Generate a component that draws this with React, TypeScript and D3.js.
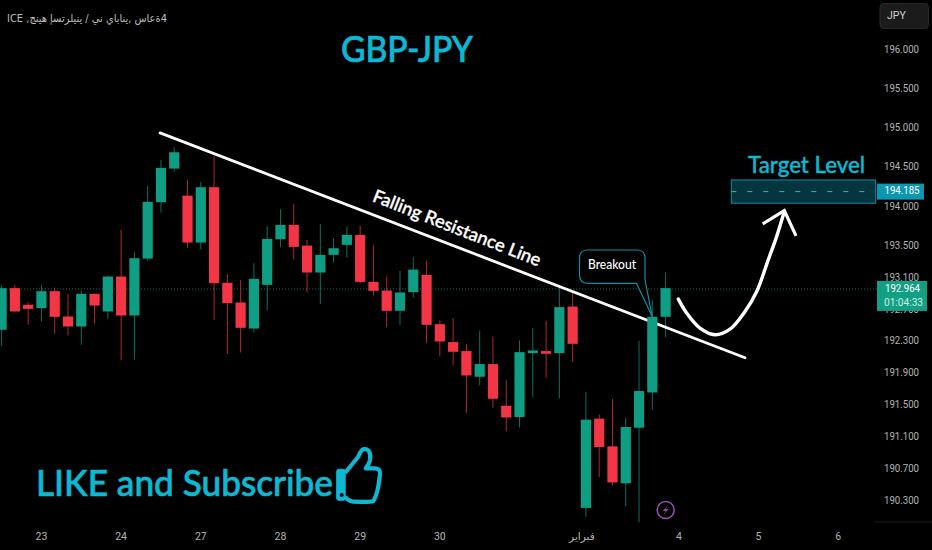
import React, { useEffect, useRef } from 'react';
import * as d3 from 'd3';

const width = 932;
const height = 550;

// OHLC for every 4h candle
const opens = [192.450, 192.974, 192.764, 192.722, 192.936, 192.617, 192.491, 192.902, 192.680, 193.120, 192.629, 193.347, 194.061, 194.487, 194.144, 193.550, 194.251, 193.041, 192.793, 192.465, 193.015, 193.592, 193.773, 193.511, 193.171, 193.394, 193.520, 193.646, 193.053, 192.944, 192.688, 192.924, 193.141, 192.520, 192.295, 192.182, 191.860, 192.019, 191.497, 191.355, 192.156, 192.182, 192.156, 192.742, 190.223, 191.335, 190.989, 190.529, 191.222, 191.663, 192.613];
const highs = [193.015, 193.015, 192.798, 193.015, 192.982, 192.902, 192.944, 192.910, 193.129, 193.710, 193.428, 194.271, 194.597, 194.759, 194.343, 194.318, 194.648, 193.154, 193.078, 193.289, 193.761, 193.972, 194.039, 193.583, 193.786, 193.605, 193.752, 193.764, 193.520, 193.120, 193.192, 193.365, 193.319, 192.563, 192.596, 192.273, 192.441, 192.365, 191.822, 192.315, 192.470, 192.563, 192.994, 192.931, 191.668, 191.389, 191.581, 191.347, 192.311, 192.826, 193.171];
const lows = [192.249, 192.676, 192.512, 192.554, 192.399, 192.378, 192.261, 192.524, 192.587, 192.064, 192.073, 193.322, 193.929, 194.448, 193.478, 193.466, 192.575, 192.145, 192.164, 192.415, 192.692, 193.491, 193.337, 192.919, 192.772, 193.297, 193.360, 193.037, 192.881, 192.483, 192.512, 192.856, 192.282, 192.114, 192.002, 191.406, 191.751, 191.472, 191.176, 191.226, 191.605, 191.847, 191.588, 192.052, 190.110, 190.607, 190.503, 190.242, 190.043, 191.447, 192.358];
const closes = [192.974, 192.680, 192.713, 192.936, 192.613, 192.491, 192.902, 192.755, 193.120, 192.629, 193.352, 194.065, 194.496, 194.695, 193.550, 194.251, 193.037, 192.785, 192.474, 193.091, 193.596, 193.773, 193.495, 193.171, 193.394, 193.478, 193.646, 193.053, 192.940, 192.688, 192.919, 193.208, 192.512, 192.303, 192.173, 191.876, 192.019, 191.584, 191.351, 192.169, 192.190, 192.148, 192.735, 192.273, 191.322, 190.981, 190.540, 191.231, 191.681, 192.613, 192.974];

const priceTicks = [196, 195.5, 195, 194.5, 194, 193.5, 193.1, 192.7, 192.3, 191.9, 191.5, 191.1, 190.7, 190.3];
const timeTickIndex = [3, 9, 15, 21, 27, 33, 43.7, 51, 57, 63];
const timeTickLabels = ['23', '24', '27', '28', '29', '30', 'فبراير', '4', '5', '6'];

const lastPrice = 192.964;
const targetPrice = 194.195;
const targetTop = 194.343;
const targetBottom = 194.048;
const targetFromIndex = 54.95;
const targetToIndex = 65.82;

// drawings are anchored to bar index / price
const trendIndex = [11.93, 55.98];
const trendPrice = [194.941, 192.098];
const curveIndex = [50.96, 51.59, 52.59, 53.72, 54.85, 55.98, 56.86, 57.73, 58.36, 58.94];
const curvePrice = [192.836, 192.659, 192.47, 192.387, 192.458, 192.68, 192.931, 193.331, 193.625, 193.942];
const headIndex = [57.31, 58.94, 59.82];
const headPrice = [193.786, 193.955, 193.634];

const UP = '#0f9d84';
const DOWN = '#f23645';
const CYAN = '#0cb8d2';
const TEAL = '#0e8fa6';
const AXIS_TEXT = '#b4b4b4';
const UI_FONT = 'Lato, "Noto Sans", sans-serif';
const AXIS_FONT = 'Roboto, "DejaVu Sans", sans-serif';

const App: React.FC = () => {
  const svgRef = useRef<SVGSVGElement>(null);

  useEffect(() => {
    if (!svgRef.current) return;
    const svg = d3.select(svgRef.current);
    svg.selectAll('*').remove();

    const x = d3.scaleLinear().domain([0, 50]).range([1.6, 665.6]);
    const y = d3.scaleLog().domain([190.3, 196]).range([501.7, 50]);
    const bars = d3.range(opens.length);
    const bodyWidth = 10.2;

    svg.append('rect').attr('width', width).attr('height', height).attr('fill', '#000');

    // last price dotted line
    svg.append('line')
      .attr('x1', 0).attr('x2', 877)
      .attr('y1', y(lastPrice)).attr('y2', y(lastPrice))
      .attr('stroke', '#0f6f5e').attr('stroke-width', 1).attr('stroke-dasharray', '1,2');

    // wicks
    svg.append('g')
      .selectAll('line')
      .data(bars)
      .join('line')
      .attr('x1', i => x(i)).attr('x2', i => x(i))
      .attr('y1', i => y(highs[i])).attr('y2', i => y(lows[i]))
      .attr('stroke', i => (closes[i] >= opens[i] ? UP : DOWN))
      .attr('stroke-opacity', 0.72)
      .attr('stroke-width', 1);

    // falling resistance line sits between wicks and bodies
    svg.append('line')
      .attr('x1', x(trendIndex[0])).attr('y1', y(trendPrice[0]))
      .attr('x2', x(trendIndex[1])).attr('y2', y(trendPrice[1]))
      .attr('stroke', '#fff').attr('stroke-width', 2.8).attr('stroke-linecap', 'round');

    // bodies
    svg.append('g')
      .selectAll('rect')
      .data(bars)
      .join('rect')
      .attr('x', i => x(i) - bodyWidth / 2)
      .attr('width', bodyWidth)
      .attr('y', i => y(Math.max(opens[i], closes[i])))
      .attr('height', i => Math.max(1.5, y(Math.min(opens[i], closes[i])) - y(Math.max(opens[i], closes[i]))))
      .attr('fill', i => (closes[i] >= opens[i] ? UP : DOWN));

    svg.append('text')
      .attr('transform', 'translate(456.5,229.5) rotate(21.5)')
      .attr('text-anchor', 'middle')
      .attr('dominant-baseline', 'middle')
      .attr('font-family', UI_FONT).attr('font-size', 18).attr('font-weight', 500)
      .attr('textLength', 179).attr('lengthAdjust', 'spacingAndGlyphs')
      .attr('fill', '#fff').attr('stroke', '#fff').attr('stroke-width', 0.4)
      .text('Falling Resistance Line');

    // target zone
    svg.append('rect')
      .attr('x', x(targetFromIndex)).attr('y', y(targetTop))
      .attr('width', x(targetToIndex) - x(targetFromIndex))
      .attr('height', y(targetBottom) - y(targetTop))
      .attr('fill', '#05363f').attr('stroke', TEAL).attr('stroke-width', 1);
    svg.append('line')
      .attr('x1', x(targetFromIndex)).attr('x2', x(targetToIndex))
      .attr('y1', y(targetPrice)).attr('y2', y(targetPrice))
      .attr('stroke', '#3fb3b8').attr('stroke-width', 1).attr('stroke-dasharray', '5,11');
    svg.append('text')
      .attr('x', 748).attr('y', 172.5)
      .attr('font-family', UI_FONT).attr('font-size', 22.5).attr('font-weight', 500)
      .attr('textLength', 117).attr('lengthAdjust', 'spacingAndGlyphs')
      .attr('fill', CYAN).attr('stroke', CYAN).attr('stroke-width', 0.4)
      .text('Target Level');

    // breakout callout
    svg.append('path')
      .attr('d', `M588,250 H637 Q645,250 645,258 V280 L${x(49)},${y(192.613)} L636.5,283.3 H588 Q579.5,283.3 579.5,275 V258 Q579.5,250 588,250 Z`)
      .attr('fill', '#000').attr('stroke', TEAL).attr('stroke-width', 1.2).attr('stroke-linejoin', 'round');
    svg.append('text')
      .attr('x', 612).attr('y', 266)
      .attr('text-anchor', 'middle').attr('dominant-baseline', 'middle')
      .attr('font-family', UI_FONT).attr('font-size', 12.5).attr('font-weight', 500)
      .attr('textLength', 48).attr('lengthAdjust', 'spacingAndGlyphs')
      .attr('fill', '#fff')
      .text('Breakout');

    // projected move
    const pathLine = d3.line<number>()
      .x(i => x(curveIndex[i]))
      .y(i => y(curvePrice[i]))
      .curve(d3.curveCatmullRom);
    svg.append('path')
      .attr('d', pathLine(d3.range(curveIndex.length)))
      .attr('fill', 'none').attr('stroke', '#fff').attr('stroke-width', 3.4).attr('stroke-linecap', 'round');
    const headLine = d3.line<number>()
      .x(i => x(headIndex[i]))
      .y(i => y(headPrice[i]));
    svg.append('path')
      .attr('d', headLine(d3.range(headIndex.length)))
      .attr('fill', 'none').attr('stroke', '#fff').attr('stroke-width', 3.2);

    // titles
    svg.append('text')
      .attr('x', 341).attr('y', 62)
      .attr('font-family', UI_FONT).attr('font-size', 37.5).attr('font-weight', 500)
      .attr('textLength', 132).attr('lengthAdjust', 'spacingAndGlyphs')
      .attr('fill', CYAN).attr('stroke', CYAN).attr('stroke-width', 0.7)
      .text('GBP-JPY');
    svg.append('text')
      .attr('x', 36).attr('y', 496)
      .attr('font-family', UI_FONT).attr('font-size', 37).attr('font-weight', 500)
      .attr('textLength', 297).attr('lengthAdjust', 'spacingAndGlyphs')
      .attr('fill', CYAN).attr('stroke', CYAN).attr('stroke-width', 0.7)
      .text('LIKE and Subscribe');

    // thumbs up
    const thumb = svg.append('g')
      .attr('transform', 'translate(336,447)')
      .attr('fill', 'none').attr('stroke', CYAN).attr('stroke-width', 4.2).attr('stroke-linejoin', 'round');
    thumb.append('path')
      .attr('d', 'M9,26 L22,10 C24,6 25,3.5 27,2.3 C33,1 35,6 34,13 C33.5,16 31.5,19 29.7,21.3 H39 C43,21.5 44.5,24 44,27 L42.3,39.7 C41,46 39.5,51 37.3,54 C36,55 30,55 17.3,54.7 C13,54 10.5,52 9,49.7');
    thumb.append('rect')
      .attr('x', 0.7).attr('y', 22.3).attr('width', 8.5).attr('height', 31).attr('rx', 2)
      .attr('fill', CYAN).attr('stroke-width', 1);
    thumb.append('circle').attr('cx', 5.7).attr('cy', 48).attr('r', 2).attr('fill', '#000').attr('stroke', 'none');

    // lightning badge
    const badge = svg.append('g').attr('transform', 'translate(665.7,510)');
    badge.append('circle').attr('r', 8.5).attr('fill', 'none').attr('stroke', '#9c4fb5').attr('stroke-width', 1.5);
    badge.append('path').attr('d', 'M2.5,-5 L-3,1 H0 L-2.5,5 L3,-1 H0 Z').attr('fill', '#8a4aa0');

    // legend line
    svg.append('text')
      .attr('x', 7).attr('y', 22)
      .attr('font-family', '"DejaVu Sans", sans-serif').attr('font-size', 11)
      .attr('textLength', 160).attr('lengthAdjust', 'spacingAndGlyphs')
      .attr('fill', '#bdbdbd')
      .style('unicode-bidi', 'bidi-override').style('direction', 'ltr')
      .text('ICE ,جنيه إسترليني / ين ياباني, ساعة4');

    // price axis
    svg.append('g')
      .selectAll('text')
      .data(priceTicks)
      .join('text')
      .attr('x', 884).attr('y', d => y(d))
      .attr('dominant-baseline', 'middle')
      .attr('font-family', AXIS_FONT).attr('font-size', 10.5)
      .attr('textLength', 35).attr('lengthAdjust', 'spacingAndGlyphs')
      .attr('fill', AXIS_TEXT)
      .text(d => d.toFixed(3));

    svg.append('line')
      .attr('x1', 875).attr('x2', width).attr('y1', 522).attr('y2', 522)
      .attr('stroke', '#1d1d1d');

    // currency button
    svg.append('rect')
      .attr('x', 880).attr('y', 3.5).attr('width', 48.5).attr('height', 25).attr('rx', 4)
      .attr('fill', '#1b1b1b').attr('stroke', '#2a2a2a');
    svg.append('text')
      .attr('x', 887).attr('y', 16)
      .attr('dominant-baseline', 'middle')
      .attr('font-family', AXIS_FONT).attr('font-size', 10.5)
      .attr('fill', '#d0d0d0')
      .text('JPY');

    // target label
    svg.append('rect')
      .attr('x', 877).attr('y', y(targetPrice) - 8).attr('width', 47).attr('height', 16)
      .attr('fill', '#0d96b0');
    svg.append('text')
      .attr('x', 884.5).attr('y', y(targetPrice))
      .attr('dominant-baseline', 'middle')
      .attr('font-family', AXIS_FONT).attr('font-size', 10.5)
      .attr('textLength', 35).attr('lengthAdjust', 'spacingAndGlyphs')
      .attr('fill', '#fff')
      .text('194.185');

    // last price label with countdown
    svg.append('rect')
      .attr('x', 877).attr('y', y(lastPrice) - 8).attr('width', 50).attr('height', 30)
      .attr('fill', '#12a085');
    svg.append('text')
      .attr('x', 885).attr('y', y(lastPrice))
      .attr('dominant-baseline', 'middle')
      .attr('font-family', AXIS_FONT).attr('font-size', 10.5)
      .attr('textLength', 35).attr('lengthAdjust', 'spacingAndGlyphs')
      .attr('fill', '#fff')
      .text(lastPrice.toFixed(3));
    svg.append('text')
      .attr('x', 884).attr('y', y(lastPrice) + 14)
      .attr('dominant-baseline', 'middle')
      .attr('font-family', AXIS_FONT).attr('font-size', 10.5)
      .attr('textLength', 39).attr('lengthAdjust', 'spacingAndGlyphs')
      .attr('fill', '#cdeee6')
      .text('01:04:33');

    // time axis
    svg.append('g')
      .selectAll('text')
      .data(timeTickIndex)
      .join('text')
      .attr('x', d => x(d)).attr('y', 537)
      .attr('text-anchor', 'middle').attr('dominant-baseline', 'middle')
      .attr('font-family', AXIS_FONT).attr('font-size', 10.5)
      .attr('fill', AXIS_TEXT)
      .text((_, i) => timeTickLabels[i]);
  }, []);

  return <svg ref={svgRef} width={width} height={height} style={{ position: 'fixed', left: 0, top: 0 }} />;
};

export default App;
